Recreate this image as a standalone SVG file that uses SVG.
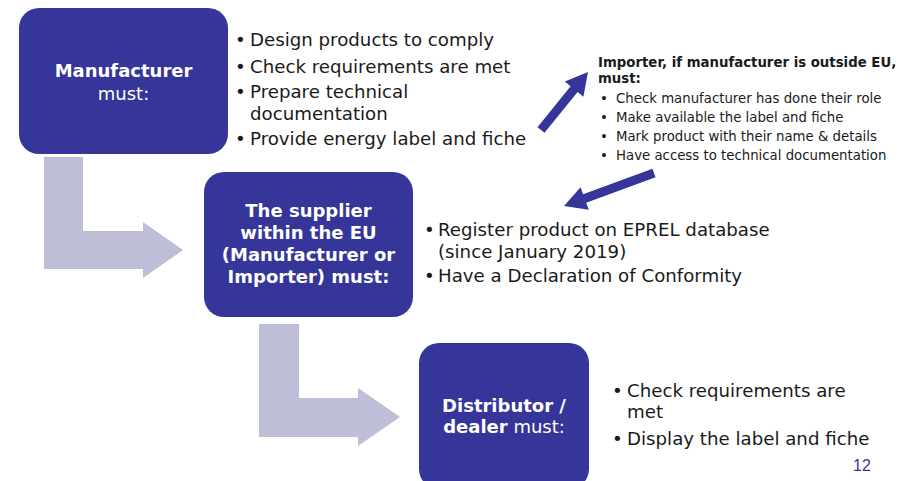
<svg xmlns="http://www.w3.org/2000/svg" width="917" height="481" viewBox="0 0 917 481">
  <style>
    .box { fill: #35359A; }
    .flow { fill: #BEBED6; }
    .link { fill: #35359A; }
    .bt { font-family: "DejaVu Sans", "Liberation Sans", sans-serif; font-size: 18px; fill: #FFFFFF; text-anchor: middle; }
    .b { font-weight: bold; }
    .li { font-family: "DejaVu Sans", "Liberation Sans", sans-serif; font-size: 18.2px; fill: #1A1A1A; }
    .sm { font-family: "DejaVu Sans", "Liberation Sans", sans-serif; font-size: 13.3px; fill: #1A1A1A; }
    .pg { font-family: "Liberation Sans", Arial, sans-serif; font-size: 16px; fill: #3535A0; }
  </style>
  <rect width="917" height="481" fill="#FFFFFF"/>

  <g id="connectors">
    <polygon class="flow" points="44,157 83,157 83,231 143,231 143,222 183,250 143,278 143,269 44,269"/>
    <polygon class="flow" points="259,324 299,324 299,398 358,398 358,388 400,417 358,446 358,437 259,437"/>
    <polygon class="link" points="537.5,127.2 570.6,86.3 564.8,81.5 588,72 583.4,96.7 577.6,91.9 544.5,132.8"/>
    <polygon class="link" points="652.45,168.78 583.1,194.21 580.52,187.17 564,206 588.78,209.69 586.2,202.65 655.55,177.22"/>
  </g>

  <g id="manufacturer">
    <rect class="box" x="19" y="8" width="209" height="146" rx="20" ry="20"/>
    <text class="bt b" x="123.5" y="77">Manufacturer</text>
    <text class="bt" x="123.5" y="100">must:</text>
  </g>

  <g id="manufacturer-duties">
    <text class="li" x="235" y="46">•</text><text class="li" x="250" y="46">Design products to comply</text>
    <text class="li" x="235" y="73">•</text><text class="li" x="250" y="73">Check requirements are met</text>
    <text class="li" x="235" y="98">•</text><text class="li" x="250" y="98">Prepare technical</text>
    <text class="li" x="250" y="120">documentation</text>
    <text class="li" x="235" y="145">•</text><text class="li" x="250" y="145">Provide energy label and fiche</text>
  </g>

  <g id="importer">
    <text class="sm b" x="598" y="67">Importer, if manufacturer is outside EU,</text>
    <text class="sm b" x="598" y="83">must:</text>
    <text class="sm" x="600" y="103">•</text><text class="sm" x="616" y="103">Check manufacturer has done their role</text>
    <text class="sm" x="600" y="122">•</text><text class="sm" x="616" y="122">Make available the label and fiche</text>
    <text class="sm" x="600" y="141">•</text><text class="sm" x="616" y="141">Mark product with their name &amp; details</text>
    <text class="sm" x="600" y="160">•</text><text class="sm" x="616" y="160">Have access to technical documentation</text>
  </g>

  <g id="supplier">
    <rect class="box" x="204" y="172" width="209" height="145" rx="20" ry="20"/>
    <text class="bt b" x="308.5" y="217">The supplier</text>
    <text class="bt b" x="308.5" y="239">within the EU</text>
    <text class="bt b" x="308.5" y="261">(Manufacturer or</text>
    <text class="bt b" x="308.5" y="283">Importer) must:</text>
  </g>

  <g id="supplier-duties">
    <text class="li" x="424" y="236">•</text><text class="li" x="438" y="236">Register product on EPREL database</text>
    <text class="li" x="438" y="258">(since January 2019)</text>
    <text class="li" x="424" y="282">•</text><text class="li" x="438" y="282">Have a Declaration of Conformity</text>
  </g>

  <g id="distributor">
    <rect class="box" x="419" y="343" width="170" height="146" rx="20" ry="20"/>
    <text class="bt b" x="504" y="412">Distributor /</text>
    <text class="bt" x="504" y="433"><tspan class="b">dealer</tspan> must:</text>
  </g>

  <g id="distributor-duties">
    <text class="li" x="612" y="397">•</text><text class="li" x="627" y="397">Check requirements are</text>
    <text class="li" x="627" y="418">met</text>
    <text class="li" x="612" y="445">•</text><text class="li" x="627" y="445">Display the label and fiche</text>
  </g>

  <text class="pg" x="853" y="471">12</text>
</svg>
